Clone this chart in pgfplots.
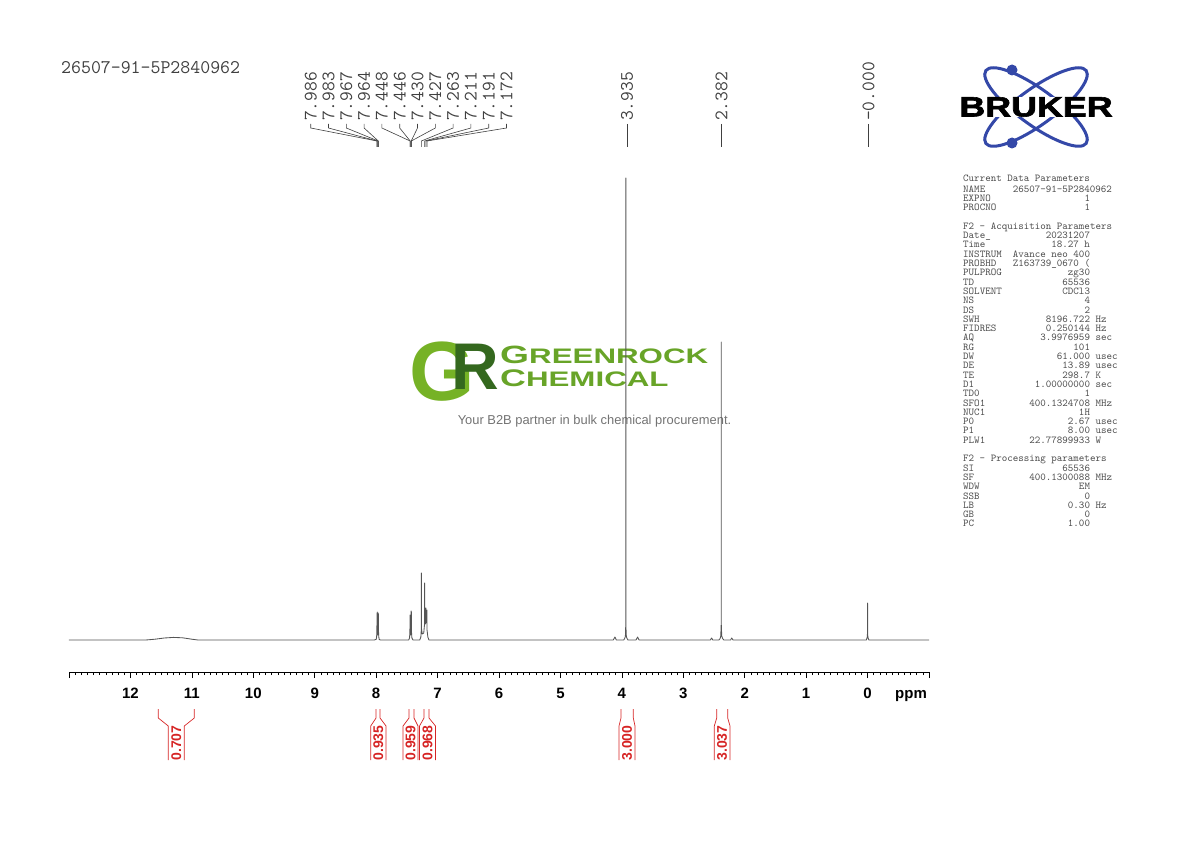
\documentclass[border=0pt]{standalone}
\usepackage{fontspec}
\setmainfont{Liberation Sans}
\newfontfamily\brukerfont[UprightFeatures={FakeBold=2}, BoldFeatures={FakeBold=2}]{Liberation Sans}
\usepackage{graphicx}
\usepackage{pgfplots}
\pgfplotsset{compat=1.18}
\definecolor{specgray}{RGB}{85,85,85}
\definecolor{intred}{RGB}{214,36,36}
\definecolor{parmgray}{RGB}{75,75,75}
\definecolor{brukerblue}{RGB}{52,72,168}
\definecolor{grlight}{RGB}{118,178,38}
\definecolor{grdark}{RGB}{52,104,30}
\definecolor{grtext}{RGB}{104,164,40}
\newcommand\pr[3]{\makebox[126.8pt][l]{#1\hfill #2}\hspace{5.5pt}#3}

\begin{document}
\begin{tikzpicture}
\useasboundingbox (0pt,0pt) rectangle (1190pt,-842pt);

% watermark
\begin{scope}[x=1pt,y=-1pt]
  \node[anchor=base west, inner sep=0, font=\bfseries] at (409,400)
    {\textcolor{grlight}{\fontsize{84}{84}\selectfont G}\kern-23.4pt\raisebox{11pt}{\textcolor{grdark}{\fontsize{66}{66}\selectfont R}}};
  \node[text=grtext, anchor=base west, inner sep=0] at (500,363)
    {\scalebox{1.49}[1]{\bfseries\fontsize{25}{25}\selectfont G\fontsize{21}{21}\selectfont REENROCK}};
  \node[text=grtext, anchor=base west, inner sep=0] at (500,386)
    {\scalebox{1.49}[1]{\bfseries\fontsize{24}{24}\selectfont C\fontsize{21}{21}\selectfont HEMICAL}};
  \node[text=black!55, font=\fontsize{12.9}{12.9}\selectfont] at (594.5,421) {Your B2B partner in bulk chemical procurement.};
\end{scope}

\begin{axis}[
    at={(69pt,-672pt)}, anchor=south west,
    scale only axis, width=860pt, height=502pt,
    xmin=-1, xmax=13, x dir=reverse,
    ymin=-32, ymax=470,
    axis x line=bottom, axis y line=none,
    x axis line style={-, line width=0.8pt},
    xtick={-1,0,...,13},
    xticklabels={,0,1,2,3,4,5,6,7,8,9,10,11,12,},
    minor x tick num=9,
    tick align=outside,
    major tick length=6pt, minor tick length=3pt,
    every tick/.style={black, line width=0.6pt},
    /pgf/number format/assume math mode=true,
    xticklabel style={font=\fontsize{15}{15}\selectfont\bfseries, yshift=-6.5pt},
  ]
  \addplot[specgray, line width=0.85pt, line join=round, mark=none] coordinates {
    (13,0) (11.75,0) (11.6,0.8) (11.45,2) (11.3,2.6) (11.15,2.2) (11.0,0.8) (10.9,0)
    (8.03,0) (8.0,0.6) (7.992,3) (7.988,10) (7.9865,18) (7.986,27) (7.9845,16) (7.983,28) (7.9825,18) (7.981,10)
    (7.976,5) (7.972,5) (7.969,10) (7.9675,18) (7.967,27) (7.9655,16) (7.964,26) (7.9635,18) (7.962,10) (7.957,3) (7.95,0.6) (7.93,0)
    (7.47,0) (7.456,2) (7.451,8) (7.4485,16) (7.448,25) (7.447,15) (7.446,24) (7.4455,16) (7.443,8) (7.438,5)
    (7.434,8) (7.4305,18) (7.430,29) (7.4285,17) (7.427,28) (7.4265,18) (7.424,8) (7.418,2) (7.40,0)
    (7.29,0) (7.272,3) (7.2635,12) (7.263,67) (7.2625,12) (7.25,6) (7.225,7) (7.2115,16) (7.211,57)
    (7.2105,18) (7.197,16) (7.1915,20) (7.191,32) (7.1905,18) (7.178,17) (7.1725,18) (7.172,30) (7.1715,10) (7.158,3) (7.14,0)
    (4.14,0) (4.112,3) (4.09,0)
    (3.97,0) (3.955,1.5) (3.945,3) (3.940,6) (3.9355,20) (3.935,462) (3.9345,20) (3.930,6) (3.925,3) (3.915,1.5) (3.90,0)
    (3.77,0) (3.743,3) (3.72,0)
    (2.56,0) (2.538,2) (2.52,0)
    (2.42,0) (2.40,1.5) (2.39,4) (2.3825,16) (2.382,298) (2.3815,16) (2.374,4) (2.36,1.5) (2.34,0)
    (2.23,0) (2.212,2) (2.19,0)
    (0.02,0) (0.005,3) (0.0005,8) (0.000,37) (-0.0005,8) (-0.005,3) (-0.02,0) (-1,0)
  };
\end{axis}

\begin{scope}[x=1pt,y=-1pt]
  \node[font=\fontsize{15}{15}\selectfont\bfseries, anchor=base] at (911,698.5) {ppm};

  % file name
  \node[font=\fontsize{19.3}{19.3}\selectfont\ttfamily, text=black!75, anchor=west, inner sep=0] at (61,68) {26507-91-5P2840962};

  % peak labels
  \foreach \x/\px/\t in {310.7/377.0/7.986, 328.5/377.2/7.983, 346.3/378.2/7.967, 364.1/378.3/7.964,
      381.9/410.1/7.448, 399.7/410.2/7.446, 417.5/411.2/7.430, 435.3/411.3/7.427,
      453.1/421.4/7.263, 470.9/424.6/7.211, 488.7/425.8/7.191, 506.5/427.0/7.172} {
    \node[rotate=90, anchor=west, inner sep=0, text=black!75, font=\fontsize{19}{19}\selectfont\ttfamily] at (\x,121) {\t};
    \draw[black!75, line width=0.6pt] (\x,124) -- (\x,128) -- (\px,141) -- (\px,147);
  }
  \foreach \x/\t in {627/3.935, 721.5/2.382, 868.5/-0.000} {
    \node[rotate=90, anchor=west, inner sep=0, text=black!75, font=\fontsize{19}{19}\selectfont\ttfamily] at (\x,121) {\t};
    \draw[black!75, line width=0.6pt] (\x,124) -- (\x,147);
  }

  % integrals
  \foreach \lt/\lb/\rt/\rb/\c/\t in {158.3/168.3/194.3/184.3/176.3/0.707, 376/370.7/380/386/378.4/0.935,
      409/403/414/418/410.5/0.959, 424/419.5/429/435.5/427.5/0.968,
      621/619/633.3/635/627/3.000, 716.7/714.3/727.7/730/722/3.037} {
    \draw[intred, line width=0.7pt] (\lt,709) -- (\lt,718) -- (\lb,726) -- (\lb,760);
    \draw[intred, line width=0.7pt] (\rt,709) -- (\rt,718) -- (\rb,726) -- (\rb,760);
    \node[rotate=90, text=intred, inner sep=0, font=\fontsize{14}{14}\selectfont\bfseries] at (\c,743) {\t};
  }

  % Bruker logo
  \draw[brukerblue, line width=3pt, rotate around={-36:(1036,107)}] (1036,107) ellipse [x radius=62, y radius=18];
  \draw[brukerblue, line width=3pt, rotate around={36:(1036,107)}] (1036,107) ellipse [x radius=62, y radius=18];
  \fill[brukerblue] (1012,70) circle (5.5);
  \fill[brukerblue] (1012,143) circle (5.5);
  \node[fill=white, inner xsep=1pt, inner ysep=0.5pt, text=black, font=\brukerfont\bfseries\fontsize{28}{28}\selectfont] at (1036,107) {\scalebox{1.28}[1]{BRUKER}};

  % parameters
  \node[anchor=north west, inner sep=0, align=left, text=parmgray, font=\fontsize{10.5}{9.3}\selectfont\ttfamily] at (963,175) {%
    \strut Current Data Parameters\\
    NAME\hspace{27.5pt}26507-91-5P2840962\\
    \pr{EXPNO}{1}{}\\
    \pr{PROCNO}{1}{}\\
    \mbox{}\\
    F2 - Acquisition Parameters\\
    \pr{Date\_}{20231207}{}\\
    \pr{Time}{18.27 h}{}\\
    \pr{INSTRUM}{Avance neo 400}{}\\
    \pr{PROBHD}{Z163739\_0670 (}{}\\
    \pr{PULPROG}{zg30}{}\\
    \pr{TD}{65536}{}\\
    \pr{SOLVENT}{CDCl3}{}\\
    \pr{NS}{4}{}\\
    \pr{DS}{2}{}\\
    \pr{SWH}{8196.722}{Hz}\\
    \pr{FIDRES}{0.250144}{Hz}\\
    \pr{AQ}{3.9976959}{sec}\\
    \pr{RG}{101}{}\\
    \pr{DW}{61.000}{usec}\\
    \pr{DE}{13.89}{usec}\\
    \pr{TE}{298.7}{K}\\
    \pr{D1}{1.00000000}{sec}\\
    \pr{TD0}{1}{}\\
    \pr{SFO1}{400.1324708}{MHz}\\
    \pr{NUC1}{1H}{}\\
    \pr{P0}{2.67}{usec}\\
    \pr{P1}{8.00}{usec}\\
    \pr{PLW1}{22.77899933}{W}\\
    \mbox{}\\
    F2 - Processing parameters\\
    \pr{SI}{65536}{}\\
    \pr{SF}{400.1300088}{MHz}\\
    \pr{WDW}{EM}{}\\
    \pr{SSB}{0}{}\\
    \pr{LB}{0.30}{Hz}\\
    \pr{GB}{0}{}\\
    \pr{PC}{1.00}{}};
\end{scope}
\end{tikzpicture}
\end{document}
